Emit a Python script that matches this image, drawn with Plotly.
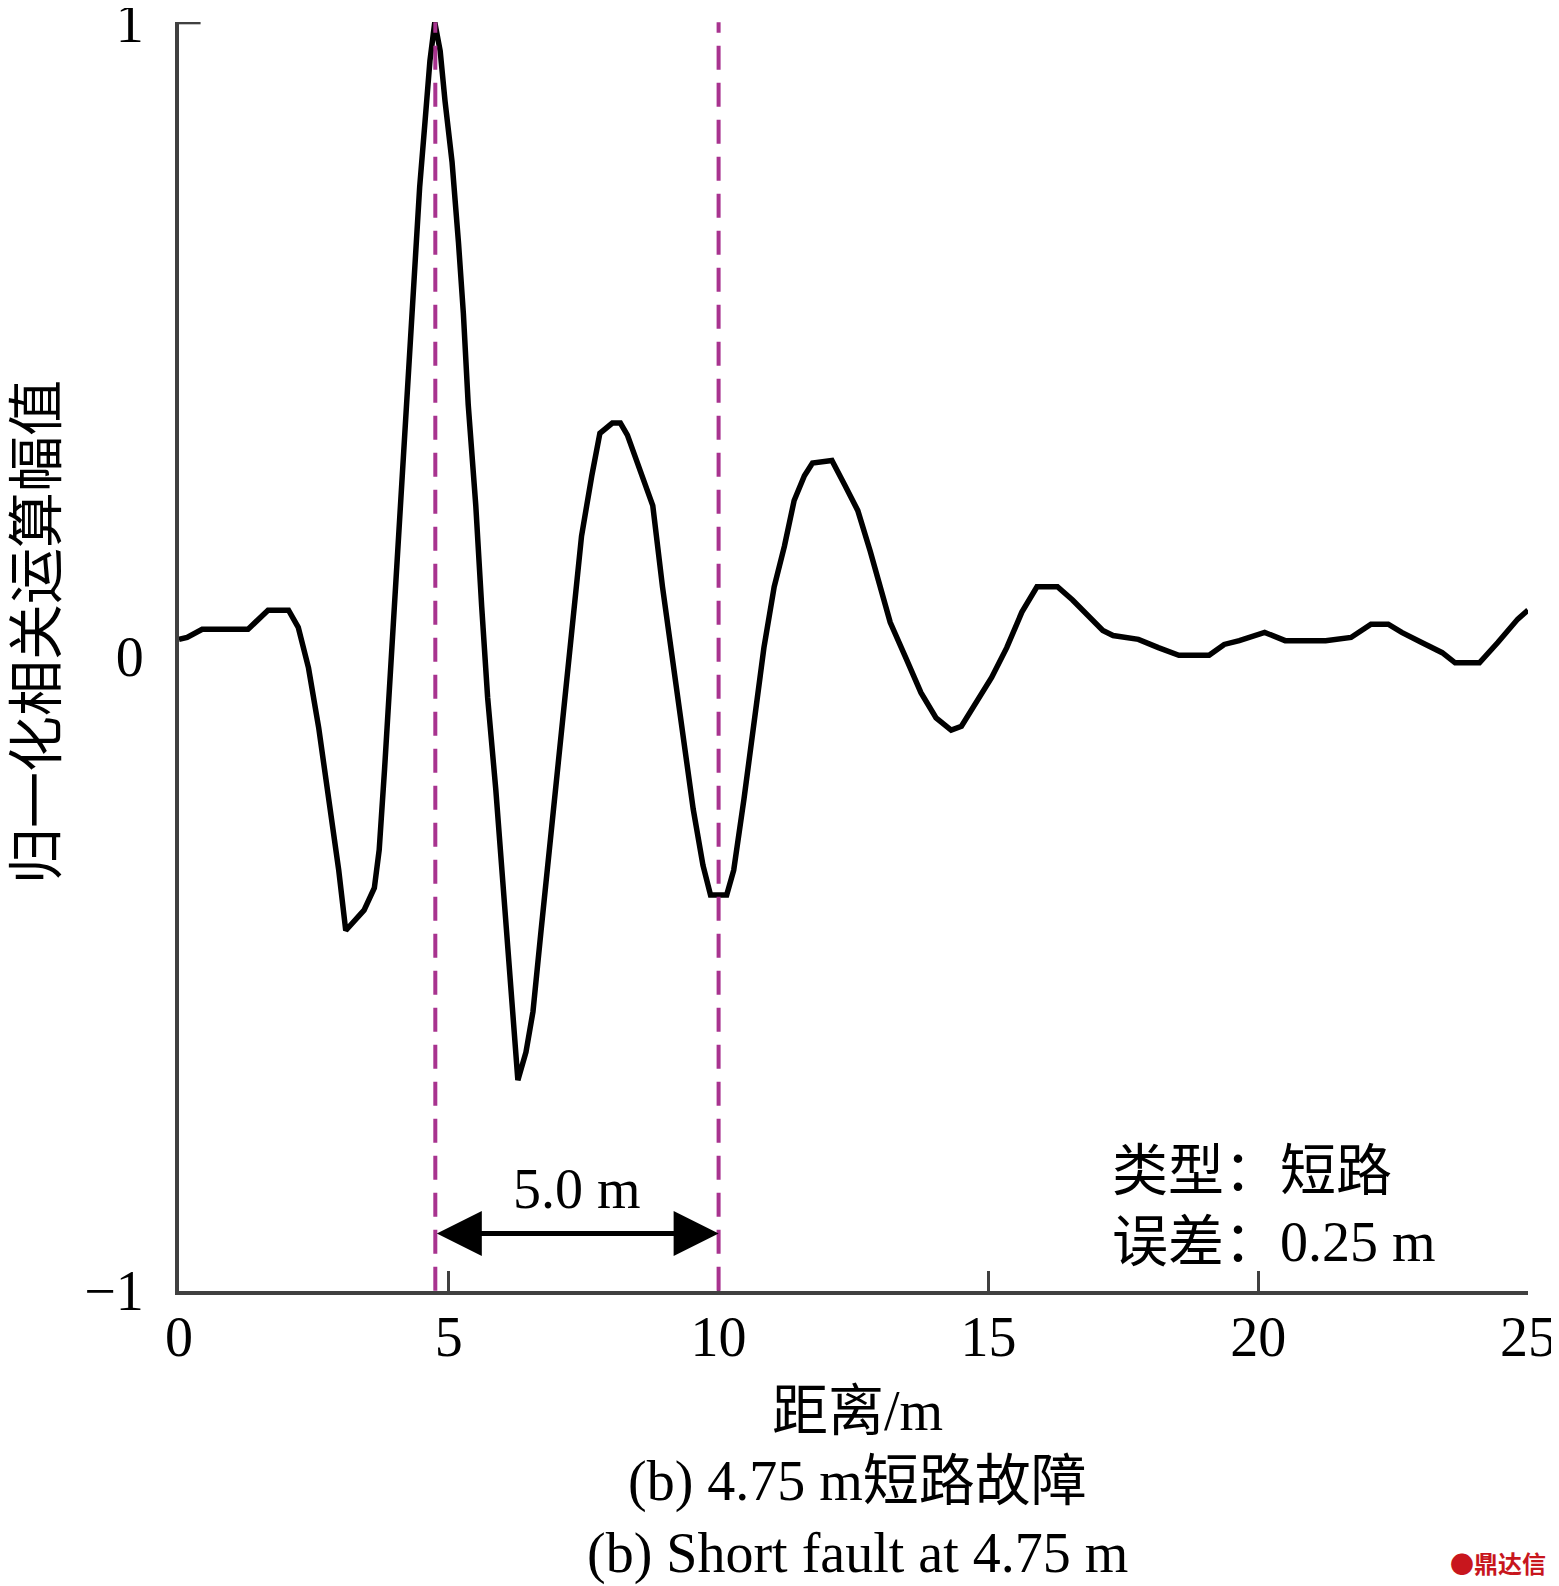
import plotly.graph_objects as go

# ---- data ----
distance = [0.00, 0.15, 0.43, 1.28, 1.65, 2.03, 2.21, 2.40, 2.59, 2.78, 2.96, 3.09, 3.24, 3.43, 3.62,
            3.71, 3.81, 3.90, 3.99, 4.09, 4.18, 4.28, 4.37, 4.46, 4.56, 4.65, 4.74, 4.84, 4.93, 5.06,
            5.18, 5.27, 5.36, 5.50, 5.61, 5.72, 5.87, 6.00, 6.11, 6.25, 6.28, 6.43, 6.56, 6.71, 6.90,
            7.09, 7.28, 7.46, 7.65, 7.80, 8.03, 8.18, 8.31, 8.59, 8.78, 8.96, 9.15, 9.34, 9.53, 9.71,
            9.85, 10.15, 10.28, 10.47, 10.65, 10.84, 11.03, 11.22, 11.40, 11.59, 11.74, 12.10, 12.34,
            12.58, 12.81, 13.00, 13.18, 13.47, 13.75, 14.03, 14.31, 14.50, 14.78, 15.06, 15.34, 15.62,
            15.90, 16.28, 16.56, 16.84, 17.12, 17.31, 17.78, 18.15, 18.53, 19.09, 19.37, 19.65, 20.12,
            20.50, 21.25, 21.72, 22.09, 22.41, 22.66, 23.03, 23.41, 23.65, 24.10, 24.44, 24.81, 25.00]
amplitude = [0.027, 0.030, 0.043, 0.043, 0.073, 0.073, 0.046, -0.018, -0.113, -0.225, -0.337, -0.432,
             -0.419, -0.400, -0.365, -0.305, -0.177, -0.049, 0.078, 0.206, 0.365, 0.493, 0.620, 0.740,
             0.844, 0.939, 1.000, 0.955, 0.876, 0.780, 0.652, 0.541, 0.397, 0.238, 0.078, -0.065,
             -0.209, -0.352, -0.480, -0.624, -0.668, -0.624, -0.560, -0.432, -0.273, -0.113, 0.046,
             0.190, 0.285, 0.352, 0.368, 0.368, 0.349, 0.285, 0.238, 0.110, -0.002, -0.129, -0.241,
             -0.329, -0.376, -0.376, -0.337, -0.225, -0.113, 0.014, 0.110, 0.174, 0.246, 0.285, 0.305,
             0.309, 0.270, 0.230, 0.166, 0.110, 0.054, -0.002, -0.057, -0.097, -0.116, -0.110, -0.073,
             -0.033, 0.014, 0.070, 0.110, 0.110, 0.089, 0.065, 0.041, 0.033, 0.027, 0.014, 0.002,
             0.002, 0.019, 0.025, 0.038, 0.025, 0.025, 0.030, 0.051, 0.051, 0.038, 0.022, 0.006,
             -0.010, -0.010, 0.022, 0.059, 0.073]

x_ticks = [0, 5, 10, 15, 20, 25]
y_ticks = [-1, 0, 1]
y_tick_text = ["\u22121", "0", "1"]
marker_lines = [4.75, 10.0]          # fault position and reference
span_label = "5.0 m"
info_lines = ["类型：短路", "误差：0.25 m"]
x_title = "距离/m"
y_title = "归一化相关运算幅值"
captions = ["(b) 4.75 m短路故障", "(b) Short fault at 4.75 m"]

FONT = "Liberation Serif, Times New Roman, Noto Sans CJK SC, serif"
AXC = "#404040"
MAG = "#A8338F"

fig = go.Figure()
fig.add_trace(go.Scatter(x=distance, y=amplitude, mode="lines",
                         line=dict(color="black", width=5.5), showlegend=False))

for xv in marker_lines:
    fig.add_shape(type="line", xref="x", yref="y", x0=xv, x1=xv, y0=-1, y1=1,
                  line=dict(color=MAG, width=4, dash="24px,13px"), layer="above")

# top tick on y axis at 1
fig.add_shape(type="line", xref="paper", yref="y", x0=0, x1=0.016, y0=1, y1=1,
              line=dict(color=AXC, width=4))

# double arrow between the dashed lines
arrow_y = -0.910
fig.add_annotation(x=marker_lines[1], y=arrow_y, ax=marker_lines[0], ay=arrow_y,
                   xref="x", yref="y", axref="x", ayref="y", text="",
                   showarrow=True, arrowhead=2, arrowside="end+start",
                   arrowsize=1.8, arrowwidth=5, arrowcolor="black",
                   standoff=0, startstandoff=0)
fig.add_annotation(x=(marker_lines[0] + marker_lines[1]) / 2, y=-0.839, xref="x", yref="y",
                   text=span_label, showarrow=False, yanchor="middle",
                   font=dict(family=FONT, size=56, color="black"))

for txt, yv in zip(info_lines, [-0.811, -0.923]):
    fig.add_annotation(x=17.26, y=yv, xref="x", yref="y", text=txt, showarrow=False,
                       xanchor="left", yanchor="middle",
                       font=dict(family=FONT, size=56, color="black"))

fig.add_annotation(x=0.5026, y=-0.0946, xref="paper", yref="paper", text=x_title,
                   showarrow=False, xanchor="center", yanchor="middle",
                   font=dict(family=FONT, size=56, color="black"))
for txt, yv in zip(captions, [-0.1505, -0.2065]):
    fig.add_annotation(x=0.5026, y=yv, xref="paper", yref="paper", text=txt,
                       showarrow=False, xanchor="center", yanchor="middle",
                       font=dict(family=FONT, size=56, color="black"))
fig.add_annotation(x=-0.1048, y=0.519, xref="paper", yref="paper", text=y_title,
                   textangle=-90, showarrow=False, xanchor="center", yanchor="middle",
                   font=dict(family=FONT, size=56, color="black"))

# watermark
fig.add_annotation(x=1.015, y=-0.2143, xref="paper", yref="paper",
                   text="<b>●鼎达信</b>", showarrow=False, xanchor="right", yanchor="middle",
                   font=dict(family="Noto Sans CJK SC", size=24, color="#C8161D"))

fig.update_xaxes(range=[0, 25], tickvals=x_ticks, ticks="inside", ticklen=20, tickwidth=3,
                 tickcolor=AXC, showline=True, linewidth=4, linecolor=AXC, showgrid=False,
                 zeroline=False, tickfont=dict(family=FONT, size=56, color="black"),
                 ticklabelstandoff=-6, automargin=False, ticklabeloverflow="allow")
fig.update_yaxes(range=[-1.0005, 1.0005], tickvals=y_ticks, ticktext=y_tick_text, ticks="",
                 showline=True, linewidth=4, linecolor=AXC, showgrid=False, zeroline=False,
                 tickfont=dict(family=FONT, size=56, color="black"), ticklabelstandoff=20,
                 automargin=False, ticklabeloverflow="allow")

# page body has an 8px default margin, so the margins are offset to compensate
fig.update_layout(width=1559, height=1586, margin=dict(l=171, r=39, t=14, b=303, autoexpand=False),
                  plot_bgcolor="white", paper_bgcolor="white")

fig.write_html("out.html")
